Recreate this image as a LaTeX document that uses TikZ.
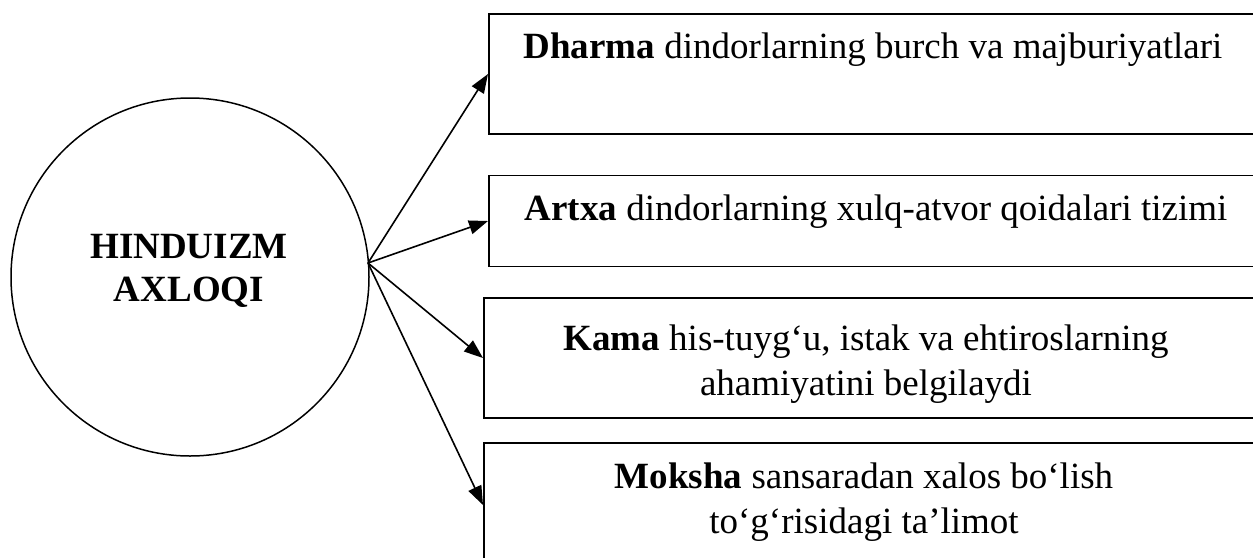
\documentclass[tikz,border=0pt]{standalone}
\usepackage{fontspec}
\setmainfont{Liberation Serif}
\usetikzlibrary{arrows.meta}
\begin{document}
\begin{tikzpicture}[x=1pt,y=-1pt,
  boxstyle/.style={draw, line width=1.8pt, rectangle, minimum width=790pt, anchor=west, inner sep=0pt},
  txt/.style={font=\fontsize{37}{45}\selectfont, align=center, inner sep=0pt},
  arr/.style={line width=1.6pt, -{Triangle[length=19pt,width=14pt]}}]
\useasboundingbox (0,0) rectangle (1253,557);
\clip (0,0) rectangle (1253,557);
\node[draw, circle, line width=1.5pt, minimum size=358pt, inner sep=0pt] (c) at (190,277) {};
\node[font=\fontsize{37}{43}\selectfont\bfseries, align=center, inner sep=0pt, anchor=base] (ct) at (189,301) {HINDUIZM\\AXLOQI};
\coordinate (hub) at (368,263);
\node[boxstyle, minimum height=120pt] (b1) at (488,74) {};
\node[boxstyle, minimum height=91pt] (b2) at (488,221) {};
\node[boxstyle, minimum height=120pt] (b3) at (483,358) {};
\node[boxstyle, minimum height=124pt] (b4) at (483,505) {};
\node[txt, anchor=base] (t1) at (873,58) {\textbf{Dharma} dindorlarning burch va majburiyatlari};
\node[txt, anchor=base] (t2) at (876,220) {\textbf{Artxa} dindorlarning xulq-atvor qoidalari tizimi};
\node[txt, anchor=base] (t3) at (866,395) {\textbf{Kama} his-tuyg‘u, istak va ehtiroslarning\\ahamiyatini belgilaydi};
\node[txt, anchor=base] (t4) at (864,533) {\textbf{Moksha} sansaradan xalos bo‘lish\\to‘g‘risidagi ta’limot};
\draw[arr] (hub) -- (b1.west);
\draw[arr] (hub) -- (b2.west);
\draw[arr] (hub) -- (b3.west);
\draw[arr] (hub) -- (b4.west);
\end{tikzpicture}
\end{document}
